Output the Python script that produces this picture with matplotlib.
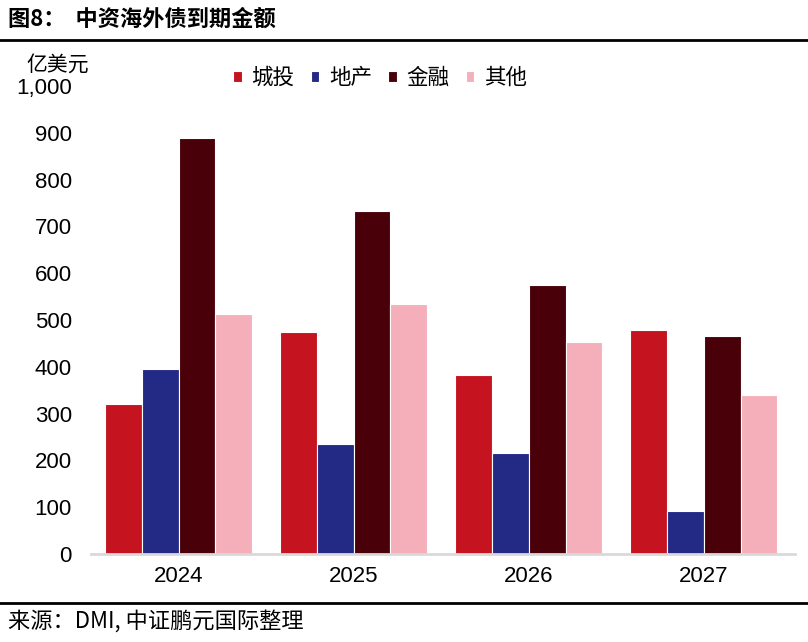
import matplotlib
matplotlib.use("Agg")
import matplotlib.pyplot as plt
import numpy as np
from matplotlib.lines import Line2D

years = ["2024", "2025", "2026", "2027"]
series_names = ["城投", "地产", "金融", "其他"]
chengtou = [320, 474, 383, 479]
dichan = [395, 236, 216, 92]
jinrong = [889, 733, 574, 465]
qita = [513, 535, 452, 339]
yticks = [0, 100, 200, 300, 400, 500, 600, 700, 800, 900, 1000]
ytick_labels = ["0", "100", "200", "300", "400", "500", "600", "700", "800", "900", "1,000"]
colors = ["#C5141F", "#232A86", "#4A0008", "#F4AFBA"]

cjk = ["Noto Sans CJK SC", "DejaVu Sans"]
num = ["Liberation Sans", "DejaVu Sans"]

fig = plt.figure(figsize=(8.08, 6.42), dpi=100)
ax = fig.add_axes([91/808, 88/642, (795-91)/808, (554-86)/642])

x = np.arange(len(years))
w = 0.21
data = [chengtou, dichan, jinrong, qita]
for i, (vals, name, c) in enumerate(zip(data, series_names, colors)):
    ax.bar(x + (i - 1.5) * w, vals, width=w, color=c, edgecolor="white",
           linewidth=0.8, label=name, zorder=2)

ax.set_xlim(-0.5, 3.52)
ax.set_ylim(0, 1000)
ax.set_yticks(yticks)
ax.set_yticklabels(ytick_labels, family=num, fontsize=16)
ax.set_xticks(x)
ax.set_xticklabels(years, family=num, fontsize=16)
ax.tick_params(axis="y", length=0, pad=13.7, colors="#000000")
ax.tick_params(axis="x", length=0, pad=9, colors="#000000")
for s in ["top", "right", "left"]:
    ax.spines[s].set_visible(False)
ax.spines["bottom"].set_color("#D9D9D9")
ax.spines["bottom"].set_linewidth(2)
ax.spines["bottom"].set_zorder(3)

fig.text(26/808, 1 - 65/642, "亿美元", family=cjk, fontsize=15, va="center", ha="left")

leg = fig.legend(loc="center", bbox_to_anchor=(380/808, 1 - 78/642),
                 ncol=4, frameon=False, prop={"family": cjk, "size": 15.5},
                 handlelength=0.4, handleheight=0.4, handletextpad=0.45,
                 columnspacing=0.75, borderaxespad=0, borderpad=0)

fig.text(8/808, 1 - 19/642, "图8：  中资海外债到期金额", family=cjk, fontsize=16,
         fontweight="bold", va="center", ha="left")
fig.add_artist(Line2D([0, 1], [1 - 40/642, 1 - 40/642], color="black", linewidth=2))
fig.add_artist(Line2D([0, 1], [1 - 603/642, 1 - 603/642], color="black", linewidth=2))
fig.text(8/808, 1 - 621/642, "来源：DMI, 中证鹏元国际整理", family=cjk, fontsize=16,
         va="center", ha="left")

fig.savefig("out.png", dpi=100)
